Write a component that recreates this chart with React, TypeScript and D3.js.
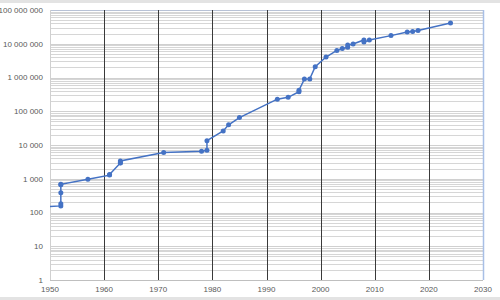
import React from "react";
import * as d3 from "d3";

// Largest known prime (number of decimal digits) by year of discovery
const years = [
  1876, 1952, 1952, 1952, 1952, 1952, 1957, 1961, 1961, 1963, 1963, 1963,
  1971, 1978, 1979, 1979, 1982, 1983, 1985, 1992, 1994, 1996, 1996, 1997,
  1998, 1999, 2001, 2003, 2004, 2005, 2005, 2006, 2008, 2008, 2009, 2013,
  2016, 2017, 2018, 2024,
];
const digits = [
  39, 157, 183, 386, 664, 687, 969, 1281, 1332, 2917, 2993, 3376,
  6002, 6533, 6987, 13395, 25962, 39751, 65050, 227832, 258716, 378632, 420921, 895932,
  909526, 2098960, 4053946, 6320430, 7235733, 7816230, 9152052, 9808358, 12978189, 11185272, 12837064, 17425170,
  22338618, 23249425, 24862048, 41024320,
];

const xTicks = [1950, 1960, 1970, 1980, 1990, 2000, 2010, 2020, 2030];
const yTicks = [1, 10, 100, 1000, 10000, 100000, 1000000, 10000000, 100000000];
const yTickLabels = [
  "1", "10", "100", "1 000", "10 000", "100 000", "1 000 000", "10 000 000", "100 000 000",
];

const W = 500;
const H = 300;
const left = 50;
const right = 483;
const top = 10;
const bottom = 280;

export default function App() {
  const x = d3.scaleLinear().domain([1950, 2030]).range([left, right]);
  const y = d3.scaleLog().domain([1, 1e8]).range([bottom, top]);

  const minor: number[] = [];
  for (let e = 0; e < 8; e++) {
    for (let k = 2; k <= 9; k++) minor.push(k * Math.pow(10, e));
  }

  const pts = years.map((yr, i) => [x(yr), y(digits[i])] as [number, number]);
  const line = d3.line().x((d) => d[0]).y((d) => d[1])(pts) || "";
  const crisp = (v: number) => Math.round(v) + 0.5;
  const font = "'Liberation Sans Narrow', 'Liberation Sans', Arial, sans-serif";

  return (
    <svg
      width={W}
      height={H}
      style={{ position: "absolute", left: 0, top: 0, background: "#fff" }}
    >
      <rect x={0} y={0} width={W} height={3} fill="#e3e3e3" />
      <rect x={0} y={297} width={W} height={3} fill="#e3e3e3" />
      <defs>
        <clipPath id="plot">
          <rect x={left} y={top - 3} width={right - left} height={bottom - top + 6} />
        </clipPath>
      </defs>
      {minor.map((v, i) => (
        <line
          key={"m" + i}
          x1={left}
          x2={right}
          y1={crisp(y(v))}
          y2={crisp(y(v))}
          stroke="#d6d6d6"
          strokeWidth={1}
        />
      ))}
      {yTicks.map((v, i) => (
        <line
          key={"M" + i}
          x1={left}
          x2={right}
          y1={crisp(y(v))}
          y2={crisp(y(v))}
          stroke={i === yTicks.length - 1 ? "#b8c2d6" : i === 0 ? "#bfbfbf" : "#d0d0d0"}
          strokeWidth={1}
        />
      ))}
      <line x1={crisp(left)} x2={crisp(left)} y1={top} y2={bottom} stroke="#d0d0d0" />
      {xTicks.slice(1, -1).map((t) => (
        <line
          key={"v" + t}
          x1={crisp(x(t))}
          x2={crisp(x(t))}
          y1={top}
          y2={bottom}
          stroke="#3a3a3a"
          strokeWidth={1}
        />
      ))}
      <line x1={crisp(right)} x2={crisp(right)} y1={top} y2={bottom} stroke="#a8bfe6" strokeWidth={1.5} />
      <g clipPath="url(#plot)">
        <path d={line} fill="none" stroke="#4472c4" strokeWidth={1.5} />
        {pts.map((p, i) => (
          <circle key={"p" + i} cx={p[0]} cy={p[1]} r={2.5} fill="#4472c4" />
        ))}
      </g>
      {yTicks.map((v, i) => (
        <text
          key={"yl" + i}
          x={43}
          y={y(v)}
          dy="0.35em"
          textAnchor="end"
          fontSize={8}
          fontFamily={font}
          fill="#595959"
        >
          {yTickLabels[i]}
        </text>
      ))}
      {xTicks.map((t) => (
        <text
          key={"xl" + t}
          x={x(t)}
          y={292}
          textAnchor="middle"
          fontSize={8}
          fontFamily={font}
          fill="#595959"
        >
          {t}
        </text>
      ))}
    </svg>
  );
}
